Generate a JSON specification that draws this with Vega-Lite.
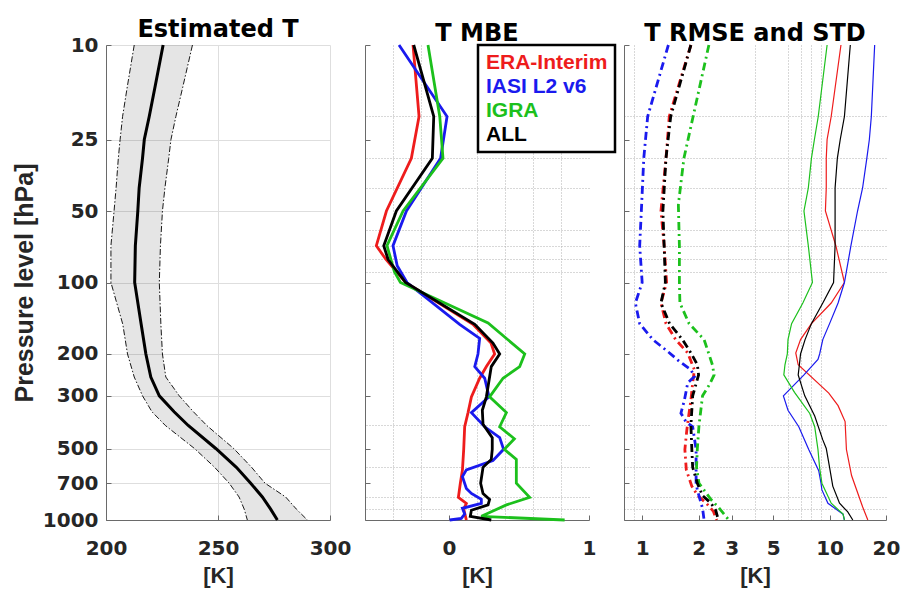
{
  "$schema": "https://vega.github.io/schema/vega-lite/v6.json",
  "padding": {"left": 12, "top": 18, "right": 5, "bottom": 3},
  "background": "white",
  "bounds": "flush",
  "spacing": 35,
  "config": {
    "view": {"stroke": null},
    "axis": {
      "labelFont": "DejaVu Sans", "labelFontSize": 20, "labelFontWeight": "bold", "labelColor": "#262626", "labelFlush": false, "labelOverlap": false,
      "titleFont": "Liberation Sans", "titleFontSize": 22, "titleFontWeight": "bold", "titleColor": "#262626",
      "domainColor": "#6a6a6a", "domainWidth": 1, "ticks": true, "tickSize": -5, "tickColor": "#6a6a6a", "minExtent": 0,
      "gridColor": "#dedede", "gridWidth": 1
    },
    "title": {"font": "DejaVu Sans", "fontSize": 24, "fontWeight": "bold", "color": "#000000", "anchor": "middle", "frame": "group", "offset": -7}
  },
  "resolve": {"scale": {"color": "independent"}, "legend": {"color": "independent"}},
  "datasets": {
    "est": [
      {"p": 10, "mean": 225.5, "lo": 212.6, "hi": 238.6},
      {"p": 15, "mean": 221.9, "lo": 209.5, "hi": 234.3},
      {"p": 20, "mean": 219.3, "lo": 207.4, "hi": 231.2},
      {"p": 25, "mean": 217.1, "lo": 206.3, "hi": 229.0},
      {"p": 30, "mean": 216.3, "lo": 205.5, "hi": 228.0},
      {"p": 40, "mean": 214.8, "lo": 204.5, "hi": 226.3},
      {"p": 50, "mean": 214.2, "lo": 203.6, "hi": 225.2},
      {"p": 70, "mean": 213.1, "lo": 202.2, "hi": 224.3},
      {"p": 100, "mean": 212.8, "lo": 202.2, "hi": 223.8},
      {"p": 150, "mean": 215.7, "lo": 207.5, "hi": 224.5},
      {"p": 200, "mean": 217.8, "lo": 209.6, "hi": 225.2},
      {"p": 250, "mean": 220.0, "lo": 212.6, "hi": 226.7},
      {"p": 300, "mean": 223.8, "lo": 216.3, "hi": 232.7},
      {"p": 350, "mean": 230.4, "lo": 220.5, "hi": 239.0},
      {"p": 400, "mean": 236.7, "lo": 226.5, "hi": 245.0},
      {"p": 500, "mean": 249.0, "lo": 239.5, "hi": 257.0},
      {"p": 600, "mean": 258.2, "lo": 248.5, "hi": 265.0},
      {"p": 700, "mean": 264.6, "lo": 255.0, "hi": 271.0},
      {"p": 800, "mean": 269.8, "lo": 259.4, "hi": 280.2},
      {"p": 900, "mean": 273.5, "lo": 261.7, "hi": 285.0},
      {"p": 1000, "mean": 276.5, "lo": 263.1, "hi": 289.9}
    ],
    "mbe": [
      {"src": "ERA-Interim", "p": 10, "v": -0.257}, {"src": "ERA-Interim", "p": 20, "v": -0.214}, {"src": "ERA-Interim", "p": 30, "v": -0.269},
      {"src": "ERA-Interim", "p": 50, "v": -0.447}, {"src": "ERA-Interim", "p": 70, "v": -0.519}, {"src": "ERA-Interim", "p": 80, "v": -0.45},
      {"src": "ERA-Interim", "p": 100, "v": -0.31}, {"src": "ERA-Interim", "p": 150, "v": 0.171}, {"src": "ERA-Interim", "p": 180, "v": 0.30},
      {"src": "ERA-Interim", "p": 200, "v": 0.326}, {"src": "ERA-Interim", "p": 226, "v": 0.267}, {"src": "ERA-Interim", "p": 253, "v": 0.219},
      {"src": "ERA-Interim", "p": 303, "v": 0.16}, {"src": "ERA-Interim", "p": 353, "v": 0.136}, {"src": "ERA-Interim", "p": 405, "v": 0.112},
      {"src": "ERA-Interim", "p": 504, "v": 0.105}, {"src": "ERA-Interim", "p": 615, "v": 0.096}, {"src": "ERA-Interim", "p": 700, "v": 0.081},
      {"src": "ERA-Interim", "p": 803, "v": 0.067}, {"src": "ERA-Interim", "p": 851, "v": 0.124}, {"src": "ERA-Interim", "p": 900, "v": 0.105},
      {"src": "ERA-Interim", "p": 1000, "v": 0.124},
      {"src": "IASI L2 v6", "p": 10, "v": -0.357}, {"src": "IASI L2 v6", "p": 20, "v": -0.014}, {"src": "IASI L2 v6", "p": 30, "v": -0.06},
      {"src": "IASI L2 v6", "p": 50, "v": -0.304}, {"src": "IASI L2 v6", "p": 70, "v": -0.40}, {"src": "IASI L2 v6", "p": 85, "v": -0.37},
      {"src": "IASI L2 v6", "p": 100, "v": -0.30}, {"src": "IASI L2 v6", "p": 150, "v": 0.076}, {"src": "IASI L2 v6", "p": 172, "v": 0.219},
      {"src": "IASI L2 v6", "p": 200, "v": 0.207}, {"src": "IASI L2 v6", "p": 226, "v": 0.184}, {"src": "IASI L2 v6", "p": 253, "v": 0.255},
      {"src": "IASI L2 v6", "p": 303, "v": 0.286}, {"src": "IASI L2 v6", "p": 353, "v": 0.16}, {"src": "IASI L2 v6", "p": 405, "v": 0.255},
      {"src": "IASI L2 v6", "p": 450, "v": 0.362}, {"src": "IASI L2 v6", "p": 504, "v": 0.39}, {"src": "IASI L2 v6", "p": 562, "v": 0.314},
      {"src": "IASI L2 v6", "p": 615, "v": 0.124}, {"src": "IASI L2 v6", "p": 657, "v": 0.096}, {"src": "IASI L2 v6", "p": 736, "v": 0.124},
      {"src": "IASI L2 v6", "p": 773, "v": 0.16}, {"src": "IASI L2 v6", "p": 819, "v": 0.231}, {"src": "IASI L2 v6", "p": 851, "v": 0.231},
      {"src": "IASI L2 v6", "p": 893, "v": 0.096}, {"src": "IASI L2 v6", "p": 944, "v": 0.112}, {"src": "IASI L2 v6", "p": 985, "v": 0.088},
      {"src": "IASI L2 v6", "p": 1000, "v": 0.005},
      {"src": "IGRA", "p": 10, "v": -0.15}, {"src": "IGRA", "p": 20, "v": -0.066}, {"src": "IGRA", "p": 30, "v": -0.043},
      {"src": "IGRA", "p": 50, "v": -0.328}, {"src": "IGRA", "p": 70, "v": -0.443}, {"src": "IGRA", "p": 90, "v": -0.39},
      {"src": "IGRA", "p": 100, "v": -0.347}, {"src": "IGRA", "p": 148, "v": 0.279}, {"src": "IGRA", "p": 200, "v": 0.541},
      {"src": "IGRA", "p": 226, "v": 0.505}, {"src": "IGRA", "p": 253, "v": 0.386}, {"src": "IGRA", "p": 303, "v": 0.29},
      {"src": "IGRA", "p": 353, "v": 0.41}, {"src": "IGRA", "p": 405, "v": 0.362}, {"src": "IGRA", "p": 455, "v": 0.467},
      {"src": "IGRA", "p": 504, "v": 0.395}, {"src": "IGRA", "p": 556, "v": 0.481}, {"src": "IGRA", "p": 700, "v": 0.481},
      {"src": "IGRA", "p": 803, "v": 0.576}, {"src": "IGRA", "p": 864, "v": 0.41}, {"src": "IGRA", "p": 965, "v": 0.231},
      {"src": "IGRA", "p": 1000, "v": 0.826},
      {"src": "ALL", "p": 10, "v": -0.252}, {"src": "ALL", "p": 20, "v": -0.109}, {"src": "ALL", "p": 30, "v": -0.119},
      {"src": "ALL", "p": 50, "v": -0.376}, {"src": "ALL", "p": 70, "v": -0.466}, {"src": "ALL", "p": 80, "v": -0.435},
      {"src": "ALL", "p": 100, "v": -0.31}, {"src": "ALL", "p": 150, "v": 0.184}, {"src": "ALL", "p": 180, "v": 0.314},
      {"src": "ALL", "p": 200, "v": 0.362}, {"src": "ALL", "p": 226, "v": 0.302}, {"src": "ALL", "p": 303, "v": 0.267},
      {"src": "ALL", "p": 345, "v": 0.238}, {"src": "ALL", "p": 395, "v": 0.243}, {"src": "ALL", "p": 450, "v": 0.309},
      {"src": "ALL", "p": 504, "v": 0.309}, {"src": "ALL", "p": 556, "v": 0.302}, {"src": "ALL", "p": 600, "v": 0.243},
      {"src": "ALL", "p": 700, "v": 0.226}, {"src": "ALL", "p": 773, "v": 0.243}, {"src": "ALL", "p": 819, "v": 0.29},
      {"src": "ALL", "p": 864, "v": 0.279}, {"src": "ALL", "p": 910, "v": 0.16}, {"src": "ALL", "p": 965, "v": 0.152},
      {"src": "ALL", "p": 1000, "v": 0.302}
    ],
    "rmse": [
      {"src": "ERA-Interim", "p": 10, "v": 1.82}, {"src": "ERA-Interim", "p": 20, "v": 1.395}, {"src": "ERA-Interim", "p": 30, "v": 1.34},
      {"src": "ERA-Interim", "p": 50, "v": 1.26}, {"src": "ERA-Interim", "p": 70, "v": 1.31}, {"src": "ERA-Interim", "p": 100, "v": 1.35},
      {"src": "ERA-Interim", "p": 122, "v": 1.26}, {"src": "ERA-Interim", "p": 149, "v": 1.34}, {"src": "ERA-Interim", "p": 174, "v": 1.51},
      {"src": "ERA-Interim", "p": 198, "v": 1.75}, {"src": "ERA-Interim", "p": 233, "v": 1.9}, {"src": "ERA-Interim", "p": 265, "v": 1.86},
      {"src": "ERA-Interim", "p": 313, "v": 1.82}, {"src": "ERA-Interim", "p": 365, "v": 1.77}, {"src": "ERA-Interim", "p": 420, "v": 1.73},
      {"src": "ERA-Interim", "p": 505, "v": 1.69}, {"src": "ERA-Interim", "p": 615, "v": 1.72}, {"src": "ERA-Interim", "p": 720, "v": 1.84},
      {"src": "ERA-Interim", "p": 790, "v": 1.98}, {"src": "ERA-Interim", "p": 850, "v": 2.2}, {"src": "ERA-Interim", "p": 920, "v": 2.4},
      {"src": "ERA-Interim", "p": 1000, "v": 2.5},
      {"src": "IASI L2 v6", "p": 10, "v": 1.38}, {"src": "IASI L2 v6", "p": 20, "v": 1.07}, {"src": "IASI L2 v6", "p": 30, "v": 1.02},
      {"src": "IASI L2 v6", "p": 50, "v": 0.99}, {"src": "IASI L2 v6", "p": 70, "v": 0.97}, {"src": "IASI L2 v6", "p": 100, "v": 1.0},
      {"src": "IASI L2 v6", "p": 122, "v": 0.92}, {"src": "IASI L2 v6", "p": 149, "v": 0.97}, {"src": "IASI L2 v6", "p": 174, "v": 1.14},
      {"src": "IASI L2 v6", "p": 198, "v": 1.4}, {"src": "IASI L2 v6", "p": 215, "v": 1.58}, {"src": "IASI L2 v6", "p": 233, "v": 1.82},
      {"src": "IASI L2 v6", "p": 249, "v": 1.9}, {"src": "IASI L2 v6", "p": 265, "v": 1.75}, {"src": "IASI L2 v6", "p": 313, "v": 1.68},
      {"src": "IASI L2 v6", "p": 355, "v": 1.61}, {"src": "IASI L2 v6", "p": 385, "v": 1.71}, {"src": "IASI L2 v6", "p": 405, "v": 1.86},
      {"src": "IASI L2 v6", "p": 505, "v": 1.94}, {"src": "IASI L2 v6", "p": 605, "v": 1.94}, {"src": "IASI L2 v6", "p": 700, "v": 1.94},
      {"src": "IASI L2 v6", "p": 747, "v": 1.97}, {"src": "IASI L2 v6", "p": 893, "v": 2.1}, {"src": "IASI L2 v6", "p": 1000, "v": 2.14},
      {"src": "IGRA", "p": 10, "v": 2.27}, {"src": "IGRA", "p": 20, "v": 1.87}, {"src": "IGRA", "p": 30, "v": 1.67},
      {"src": "IGRA", "p": 47, "v": 1.56}, {"src": "IGRA", "p": 70, "v": 1.58}, {"src": "IGRA", "p": 100, "v": 1.58},
      {"src": "IGRA", "p": 122, "v": 1.59}, {"src": "IGRA", "p": 149, "v": 1.78}, {"src": "IGRA", "p": 174, "v": 2.14},
      {"src": "IGRA", "p": 200, "v": 2.27}, {"src": "IGRA", "p": 222, "v": 2.37}, {"src": "IGRA", "p": 245, "v": 2.42},
      {"src": "IGRA", "p": 270, "v": 2.28}, {"src": "IGRA", "p": 300, "v": 2.1}, {"src": "IGRA", "p": 400, "v": 2.01},
      {"src": "IGRA", "p": 500, "v": 1.97}, {"src": "IGRA", "p": 600, "v": 1.95}, {"src": "IGRA", "p": 700, "v": 2.01},
      {"src": "IGRA", "p": 820, "v": 2.33}, {"src": "IGRA", "p": 890, "v": 2.57}, {"src": "IGRA", "p": 1000, "v": 2.9},
      {"src": "ALL", "p": 10, "v": 1.82}, {"src": "ALL", "p": 20, "v": 1.42}, {"src": "ALL", "p": 30, "v": 1.34},
      {"src": "ALL", "p": 50, "v": 1.29}, {"src": "ALL", "p": 70, "v": 1.31}, {"src": "ALL", "p": 100, "v": 1.33},
      {"src": "ALL", "p": 122, "v": 1.26}, {"src": "ALL", "p": 149, "v": 1.4}, {"src": "ALL", "p": 174, "v": 1.64},
      {"src": "ALL", "p": 198, "v": 1.82}, {"src": "ALL", "p": 222, "v": 1.97}, {"src": "ALL", "p": 245, "v": 2.0},
      {"src": "ALL", "p": 300, "v": 1.86}, {"src": "ALL", "p": 400, "v": 1.82}, {"src": "ALL", "p": 500, "v": 1.84},
      {"src": "ALL", "p": 600, "v": 1.86}, {"src": "ALL", "p": 700, "v": 1.97}, {"src": "ALL", "p": 790, "v": 2.1},
      {"src": "ALL", "p": 850, "v": 2.33}, {"src": "ALL", "p": 910, "v": 2.47}, {"src": "ALL", "p": 1000, "v": 2.55}
    ],
    "std": [
      {"src": "ERA-Interim", "p": 10, "v": 11.5}, {"src": "ERA-Interim", "p": 20, "v": 10.2}, {"src": "ERA-Interim", "p": 25, "v": 9.7},
      {"src": "ERA-Interim", "p": 30, "v": 9.6}, {"src": "ERA-Interim", "p": 40, "v": 9.6}, {"src": "ERA-Interim", "p": 50, "v": 9.5},
      {"src": "ERA-Interim", "p": 70, "v": 10.8}, {"src": "ERA-Interim", "p": 100, "v": 12.0}, {"src": "ERA-Interim", "p": 122, "v": 10.2},
      {"src": "ERA-Interim", "p": 149, "v": 8.0}, {"src": "ERA-Interim", "p": 174, "v": 7.0}, {"src": "ERA-Interim", "p": 198, "v": 6.6},
      {"src": "ERA-Interim", "p": 222, "v": 6.8}, {"src": "ERA-Interim", "p": 292, "v": 9.9}, {"src": "ERA-Interim", "p": 330, "v": 11.1},
      {"src": "ERA-Interim", "p": 385, "v": 12.1}, {"src": "ERA-Interim", "p": 505, "v": 12.3}, {"src": "ERA-Interim", "p": 650, "v": 13.1},
      {"src": "ERA-Interim", "p": 790, "v": 14.3}, {"src": "ERA-Interim", "p": 880, "v": 15.0}, {"src": "ERA-Interim", "p": 1000, "v": 16.0},
      {"src": "IASI L2 v6", "p": 10, "v": 17.4}, {"src": "IASI L2 v6", "p": 20, "v": 16.7}, {"src": "IASI L2 v6", "p": 25, "v": 16.3},
      {"src": "IASI L2 v6", "p": 30, "v": 15.8}, {"src": "IASI L2 v6", "p": 40, "v": 15.0}, {"src": "IASI L2 v6", "p": 50, "v": 14.1},
      {"src": "IASI L2 v6", "p": 70, "v": 13.0}, {"src": "IASI L2 v6", "p": 100, "v": 12.0}, {"src": "IASI L2 v6", "p": 122, "v": 11.1},
      {"src": "IASI L2 v6", "p": 149, "v": 10.0}, {"src": "IASI L2 v6", "p": 174, "v": 9.2}, {"src": "IASI L2 v6", "p": 200, "v": 8.85},
      {"src": "IASI L2 v6", "p": 211, "v": 8.67}, {"src": "IASI L2 v6", "p": 245, "v": 7.3}, {"src": "IASI L2 v6", "p": 300, "v": 5.67},
      {"src": "IASI L2 v6", "p": 345, "v": 6.0}, {"src": "IASI L2 v6", "p": 405, "v": 6.85}, {"src": "IASI L2 v6", "p": 505, "v": 7.74},
      {"src": "IASI L2 v6", "p": 620, "v": 8.75}, {"src": "IASI L2 v6", "p": 699, "v": 9.0}, {"src": "IASI L2 v6", "p": 747, "v": 9.1},
      {"src": "IASI L2 v6", "p": 851, "v": 9.8}, {"src": "IASI L2 v6", "p": 945, "v": 11.8}, {"src": "IASI L2 v6", "p": 1000, "v": 12.0},
      {"src": "IGRA", "p": 10, "v": 9.7}, {"src": "IGRA", "p": 20, "v": 8.7}, {"src": "IGRA", "p": 25, "v": 8.3},
      {"src": "IGRA", "p": 30, "v": 8.0}, {"src": "IGRA", "p": 40, "v": 7.7}, {"src": "IGRA", "p": 50, "v": 7.3},
      {"src": "IGRA", "p": 70, "v": 7.7}, {"src": "IGRA", "p": 100, "v": 8.1}, {"src": "IGRA", "p": 122, "v": 7.2},
      {"src": "IGRA", "p": 149, "v": 6.27}, {"src": "IGRA", "p": 174, "v": 6.0}, {"src": "IGRA", "p": 200, "v": 5.95},
      {"src": "IGRA", "p": 222, "v": 5.78}, {"src": "IGRA", "p": 245, "v": 5.7}, {"src": "IGRA", "p": 290, "v": 6.5},
      {"src": "IGRA", "p": 356, "v": 7.84}, {"src": "IGRA", "p": 405, "v": 8.33}, {"src": "IGRA", "p": 505, "v": 8.67},
      {"src": "IGRA", "p": 605, "v": 8.85}, {"src": "IGRA", "p": 700, "v": 9.1}, {"src": "IGRA", "p": 850, "v": 10.2},
      {"src": "IGRA", "p": 945, "v": 11.8}, {"src": "IGRA", "p": 1000, "v": 12.0},
      {"src": "ALL", "p": 10, "v": 12.9}, {"src": "ALL", "p": 20, "v": 12.0}, {"src": "ALL", "p": 25, "v": 11.4},
      {"src": "ALL", "p": 30, "v": 11.0}, {"src": "ALL", "p": 40, "v": 10.7}, {"src": "ALL", "p": 50, "v": 10.7},
      {"src": "ALL", "p": 70, "v": 10.7}, {"src": "ALL", "p": 100, "v": 10.5}, {"src": "ALL", "p": 122, "v": 9.2},
      {"src": "ALL", "p": 149, "v": 8.0}, {"src": "ALL", "p": 174, "v": 7.4}, {"src": "ALL", "p": 200, "v": 7.0},
      {"src": "ALL", "p": 222, "v": 6.9}, {"src": "ALL", "p": 245, "v": 6.8}, {"src": "ALL", "p": 300, "v": 7.37},
      {"src": "ALL", "p": 365, "v": 8.33}, {"src": "ALL", "p": 460, "v": 9.2}, {"src": "ALL", "p": 500, "v": 9.6},
      {"src": "ALL", "p": 600, "v": 10.0}, {"src": "ALL", "p": 720, "v": 10.4}, {"src": "ALL", "p": 850, "v": 11.3},
      {"src": "ALL", "p": 925, "v": 12.5}, {"src": "ALL", "p": 1000, "v": 13.3}
    ]
  },
  "hconcat": [
    {
      "width": 224, "height": 475,
      "title": {"text": "Estimated T"},
      "data": {"name": "est"},
      "layer": [
        {
          "mark": {"type": "area", "orient": "horizontal", "fill": "#000000", "fillOpacity": 0.1},
          "encoding": {
            "y": {"field": "p", "type": "quantitative", "scale": {"type": "log", "domain": [10, 1000], "reverse": true, "nice": false},
                  "axis": {"orient": "left", "values": [10, 25, 50, 100, 200, 300, 500, 700, 1000], "format": "d", "labelPadding": 13, "title": "Pressure level [hPa]", "titleFontSize": 25, "titlePadding": 5}},
            "x": {"field": "lo", "type": "quantitative", "scale": {"domain": [200, 300], "nice": false, "zero": false},
                  "axis": {"orient": "bottom", "values": [200, 250, 300], "format": "d", "labelPadding": 23, "title": "[K]", "titlePadding": 7}},
            "x2": {"field": "hi"}
          }
        },
        {
          "mark": {"type": "point", "opacity": 0},
          "encoding": {
            "y": {"field": "p", "type": "quantitative", "axis": {"orient": "right", "values": [20, 30, 40, 60, 70, 80, 90, 400, 600, 800, 900], "labels": false, "domain": false, "ticks": false, "title": null, "gridDash": [1, 2], "gridColor": "#b0b0b0"}},
            "x": {"field": "mean", "type": "quantitative", "axis": {"orient": "top", "values": [210, 220, 230, 240, 260, 270, 280, 290], "labels": false, "domain": false, "ticks": false, "title": null, "gridDash": [1, 2], "gridColor": "#b0b0b0"}}
          }
        },
        {
          "mark": {"type": "line", "color": "#000000", "strokeWidth": 0.9, "strokeDash": [6, 2, 1.5, 2]},
          "encoding": {"y": {"field": "p", "type": "quantitative", "axis": null}, "x": {"field": "lo", "type": "quantitative", "axis": null}, "order": {"field": "p"}}
        },
        {
          "mark": {"type": "line", "color": "#000000", "strokeWidth": 0.9, "strokeDash": [6, 2, 1.5, 2]},
          "encoding": {"y": {"field": "p", "type": "quantitative", "axis": null}, "x": {"field": "hi", "type": "quantitative", "axis": null}, "order": {"field": "p"}}
        },
        {
          "mark": {"type": "line", "color": "#000000", "strokeWidth": 3},
          "encoding": {"y": {"field": "p", "type": "quantitative", "axis": null}, "x": {"field": "mean", "type": "quantitative", "axis": null}, "order": {"field": "p"}}
        }
      ],
      "resolve": {"axis": {"x": "independent", "y": "independent"}}
    },
    {
      "width": 224, "height": 475,
      "title": {"text": "T MBE"},
      "data": {"name": "mbe"},
      "layer": [
        {
          "mark": {"type": "point", "opacity": 0},
          "encoding": {
            "y": {"field": "p", "type": "quantitative", "scale": {"type": "log", "domain": [10, 1000], "reverse": true, "nice": false},
                  "axis": {"orient": "right", "values": [20, 30, 40, 60, 70, 80, 90, 400, 600, 800, 900], "labels": false, "domain": false, "ticks": false, "title": null, "gridDash": [1, 2], "gridColor": "#b0b0b0"}},
            "x": {"field": "v", "type": "quantitative", "scale": {"domain": [-0.6, 1], "nice": false, "zero": false},
                  "axis": {"orient": "top", "values": [-0.4, -0.2, 0.2, 0.4, 0.6, 0.8], "labels": false, "domain": false, "ticks": false, "title": null, "gridDash": [1, 2], "gridColor": "#b0b0b0"}}
          }
        },
        {
          "mark": {"type": "line", "strokeWidth": 2.8},
          "encoding": {
            "y": {"field": "p", "type": "quantitative",
                  "axis": {"orient": "left", "values": [10, 25, 50, 100, 200, 300, 500, 700, 1000], "labels": false, "title": null}},
            "x": {"field": "v", "type": "quantitative",
                  "axis": {"orient": "bottom", "values": [0, 1], "format": "~g", "labelPadding": 23, "title": "[K]", "titlePadding": 7}},
            "order": {"field": "p"},
            "color": {"field": "src", "type": "nominal",
                      "scale": {"domain": ["ERA-Interim", "IASI L2 v6", "IGRA", "ALL"], "range": ["#ee1c1c", "#1a1aee", "#1cc01c", "#000000"]},
                      "legend": {"orient": "none", "legendX": 113, "legendY": 0, "title": null, "symbolSize": 0, "symbolOpacity": 0, "symbolStrokeWidth": 0,
                                 "labelOffset": -20, "labelFont": "Liberation Sans", "labelFontSize": 21, "labelFontWeight": "bold",
                                 "padding": 7, "rowPadding": 2, "strokeColor": "#000000", "fillColor": "#ffffff",
                                 "encode": {"labels": {"update": {"fill": {"signal": "datum.value === 'ERA-Interim' ? '#ee1c1c' : datum.value === 'IASI L2 v6' ? '#1a1aee' : datum.value === 'IGRA' ? '#1cc01c' : '#000000'"}}},
                                            "legend": {"update": {"strokeWidth": {"value": 2.5}}}}}}
          }
        }
      ],
      "resolve": {"axis": {"x": "independent", "y": "independent"}}
    },
    {
      "width": 262, "height": 475,
      "title": {"text": "T RMSE and STD"},
      "layer": [
        {
          "data": {"name": "std"},
          "mark": {"type": "point", "opacity": 0},
          "encoding": {
            "y": {"field": "p", "type": "quantitative", "scale": {"type": "log", "domain": [10, 1000], "reverse": true, "nice": false},
                  "axis": {"orient": "right", "values": [20, 30, 40, 60, 70, 80, 90, 400, 600, 800, 900], "labels": false, "domain": false, "ticks": false, "title": null, "gridDash": [1, 2], "gridColor": "#b0b0b0"}},
            "x": {"field": "v", "type": "quantitative", "scale": {"type": "log", "domain": [0.8, 20], "nice": false},
                  "axis": {"orient": "top", "values": [0.9, 4, 6, 7, 8, 9], "labels": false, "domain": false, "ticks": false, "title": null, "gridDash": [1, 2], "gridColor": "#b0b0b0"}}
          }
        },
        {
          "data": {"name": "std"},
          "mark": {"type": "line", "strokeWidth": 1.2},
          "encoding": {
            "y": {"field": "p", "type": "quantitative",
                  "axis": {"orient": "left", "values": [10, 25, 50, 100, 200, 300, 500, 700, 1000], "labels": false, "title": null}},
            "x": {"field": "v", "type": "quantitative",
                  "axis": {"orient": "bottom", "values": [1, 2, 3, 5, 10, 20], "format": "~g", "labelPadding": 23, "title": "[K]", "titlePadding": 7}},
            "order": {"field": "p"},
            "color": {"field": "src", "type": "nominal", "legend": null,
                      "scale": {"domain": ["ERA-Interim", "IASI L2 v6", "IGRA", "ALL"], "range": ["#ee1c1c", "#1a1aee", "#1cc01c", "#000000"]}}
          }
        },
        {
          "data": {"name": "rmse"},
          "mark": {"type": "line", "strokeWidth": 2.8, "strokeDash": [8, 4, 2, 4]},
          "encoding": {
            "y": {"field": "p", "type": "quantitative", "axis": null},
            "x": {"field": "v", "type": "quantitative", "axis": null},
            "order": {"field": "p"},
            "color": {"field": "src", "type": "nominal", "legend": null,
                      "scale": {"domain": ["ERA-Interim", "IASI L2 v6", "IGRA", "ALL"], "range": ["#ee1c1c", "#1a1aee", "#1cc01c", "#000000"]}}
          }
        }
      ],
      "resolve": {"axis": {"x": "independent", "y": "independent"}}
    }
  ]
}
